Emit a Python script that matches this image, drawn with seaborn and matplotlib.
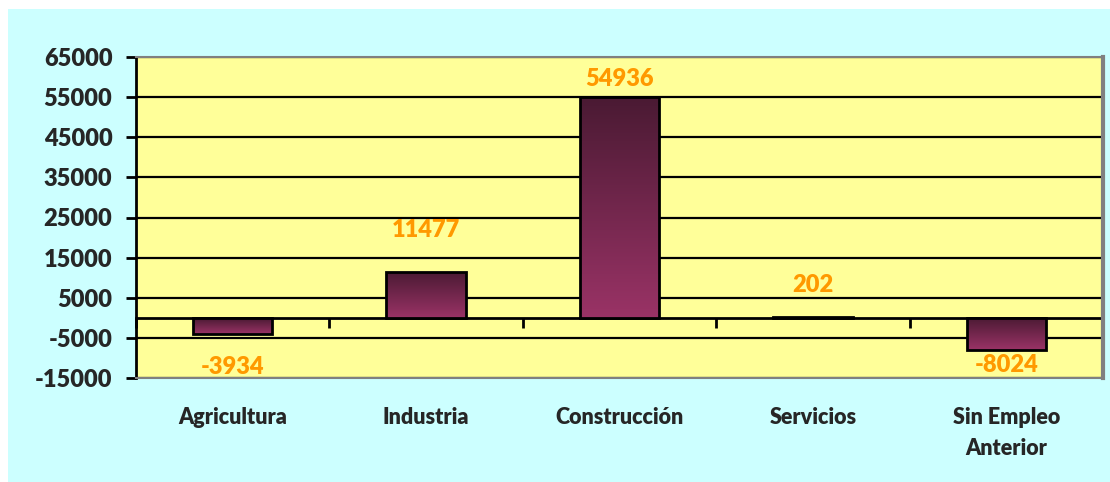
import numpy as np
import matplotlib.pyplot as plt
import seaborn as sns
from matplotlib.patches import Rectangle
from matplotlib.colors import LinearSegmentedColormap

categories = ["Agricultura", "Industria", "Construcción", "Servicios", "Sin Empleo\nAnterior"]
values = [-3934, 11477, 54936, 202, -8024]
y_ticks = [-15000, -5000, 5000, 15000, 25000, 35000, 45000, 55000, 65000]
# label offsets (points) from the bar end
label_offsets = [-24, 30, 13, 23, -11]

WEIGHT = 800

sns.set_style("white")
plt.rcParams['font.family'] = 'Lato'
plt.rcParams['font.weight'] = WEIGHT
plt.rcParams['axes.unicode_minus'] = False

fig = plt.figure(figsize=(11.1, 4.82), dpi=100)
fig.patch.set_facecolor('white')
# cyan chart area with thin white strip on top/left
fig.patches.append(Rectangle((8 / 1110, 0), 1, 1 - 9 / 482, transform=fig.transFigure,
                             facecolor='#CCFFFF', edgecolor='none', zorder=-10))

ax = fig.add_axes([136 / 1110, 1 - 378 / 482, (1103 - 136) / 1110, (378 - 57) / 482])
ax.set_facecolor('#FFFF99')

sns.barplot(x=categories, y=values, ax=ax, width=0.41, color='#993366',
            edgecolor='black', linewidth=2, zorder=2)

# vertical gradient inside each bar (dark top -> lighter bottom)
cmap = LinearSegmentedColormap.from_list("bar", ["#4A1A33", "#9A3366"])
grad = np.linspace(0, 1, 256).reshape(-1, 1)
for patch in ax.patches:
    x0, y0 = patch.get_x(), patch.get_y()
    w, h = patch.get_width(), patch.get_height()
    bottom, top = min(y0, y0 + h), max(y0, y0 + h)
    im = ax.imshow(grad, cmap=cmap, aspect='auto', origin='upper',
                   extent=(x0, x0 + w, bottom, top), zorder=1.8)
    im.set_clip_path(patch)
    patch.set_facecolor('none')
ax.set_ylim(-15000, 65000)
ax.set_xlim(-0.5, len(categories) - 0.5)

# value labels
for i, (v, off) in enumerate(zip(values, label_offsets)):
    ax.annotate(f"{v}", xy=(i, v), xytext=(0, off), textcoords='offset points',
                ha='center', va='center', color='#FF9900', fontsize=17,
                family='Lato', fontweight=WEIGHT)

# gridlines
ax.set_yticks(y_ticks)
ax.yaxis.grid(True, color='black', linewidth=1.6)
ax.set_axisbelow(True)

ax.tick_params(axis='y', direction='out', length=7, width=2, color='black',
               labelsize=17, pad=10, left=True)
ax.tick_params(axis='x', length=0, labelsize=15.5, pad=21)
for lbl in ax.get_xticklabels():
    lbl.set_linespacing(1.55)
    lbl.set_family('Lato')
    lbl.set_fontweight(WEIGHT)
for lbl in ax.get_yticklabels():
    lbl.set_family('Lato')
    lbl.set_fontweight(WEIGHT)

ax.spines['left'].set_color('black')
ax.spines['left'].set_linewidth(2)
ax.spines['top'].set_color('#808080')
ax.spines['top'].set_linewidth(1.5)
ax.spines['right'].set_color('#808080')
ax.spines['right'].set_linewidth(3)
ax.spines['bottom'].set_color('#808080')
ax.spines['bottom'].set_linewidth(1.5)
for s in ax.spines.values():
    s.set_visible(True)

# zero line with category boundary ticks
frac = (0 - y_ticks[0]) / (y_ticks[-1] - y_ticks[0])
zero_ax = ax.secondary_xaxis(frac)
zero_ax.set_xticks(np.arange(len(categories) + 1) - 0.5)
zero_ax.tick_params(direction='out', length=7, width=2, color='black', labelbottom=False)
zero_ax.spines['bottom'].set_linewidth(2)
zero_ax.spines['bottom'].set_color('black')

fig.savefig("out.png", dpi=100, facecolor=fig.get_facecolor())
